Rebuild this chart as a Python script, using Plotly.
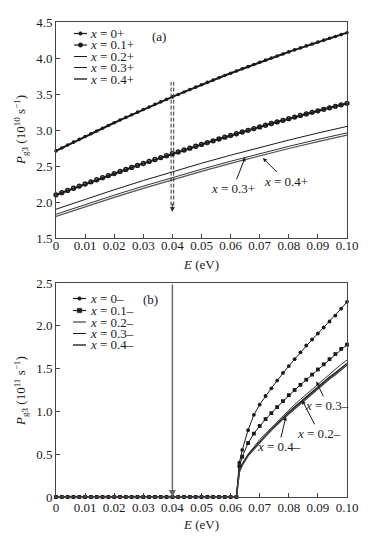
import plotly.graph_objects as go

# ---------------- data ----------------
E_TOP_DENSE = [round(i * 0.002, 3) for i in range(51)]
E_TOP_COARSE = [round(i * 0.01, 2) for i in range(11)]

P_TOP_X0 = [2.710, 2.750, 2.791, 2.831, 2.870, 2.909, 2.948, 2.987, 3.025, 3.063,
            3.101, 3.138, 3.175, 3.212, 3.248, 3.284, 3.320, 3.356, 3.391, 3.426,
            3.460, 3.494, 3.528, 3.562, 3.595, 3.628, 3.661, 3.693, 3.725, 3.757,
            3.788, 3.819, 3.850, 3.880, 3.910, 3.940, 3.970, 3.999, 4.028, 4.056,
            4.085, 4.113, 4.140, 4.168, 4.195, 4.221, 4.248, 4.274, 4.299, 4.325,
            4.350]
P_TOP_X01 = [2.100, 2.130, 2.161, 2.191, 2.221, 2.250, 2.280, 2.309, 2.338, 2.367,
             2.395, 2.424, 2.452, 2.480, 2.508, 2.535, 2.563, 2.590, 2.617, 2.643,
             2.670, 2.696, 2.722, 2.748, 2.774, 2.800, 2.825, 2.850, 2.875, 2.900,
             2.924, 2.948, 2.972, 2.996, 3.020, 3.043, 3.066, 3.090, 3.112, 3.135,
             3.157, 3.180, 3.202, 3.223, 3.245, 3.266, 3.287, 3.308, 3.329, 3.350,
             3.370]
P_TOP_X02 = [1.900, 2.038, 2.170, 2.298, 2.420, 2.538, 2.650, 2.758, 2.860, 2.958, 3.050]
P_TOP_X03 = [1.830, 1.965, 2.095, 2.220, 2.340, 2.455, 2.566, 2.672, 2.773, 2.869, 2.960]
P_TOP_X04 = [1.800, 1.935, 2.065, 2.190, 2.310, 2.425, 2.536, 2.642, 2.743, 2.839, 2.930]

E_BOT = ([round(i * 0.002, 3) for i in range(32)] + [0.063]
         + [round(0.064 + i * 0.002, 3) for i in range(19)])
BELOW_THRESHOLD = [0, 0, 0, 0, 0, 0, 0, 0, 0, 0, 0, 0, 0, 0, 0, 0,
                   0, 0, 0, 0, 0, 0, 0, 0, 0, 0, 0, 0, 0, 0, 0, 0]
P_BOT_X0 = BELOW_THRESHOLD + [0.40, 0.55, 0.78, 0.96, 1.08, 1.18, 1.27, 1.36, 1.45, 1.53,
                              1.61, 1.69, 1.77, 1.84, 1.91, 1.98, 2.05, 2.12, 2.20, 2.28]
P_BOT_X01 = BELOW_THRESHOLD + [0.36, 0.47, 0.63, 0.74, 0.83, 0.91, 0.98, 1.05, 1.12, 1.19,
                               1.25, 1.31, 1.37, 1.43, 1.49, 1.55, 1.61, 1.67, 1.73, 1.78]
P_BOT_X02 = BELOW_THRESHOLD + [0.30, 0.38, 0.49, 0.57, 0.65, 0.72, 0.79, 0.86, 0.92, 0.99,
                               1.05, 1.11, 1.17, 1.23, 1.29, 1.34, 1.40, 1.45, 1.51, 1.56]
P_BOT_X03 = BELOW_THRESHOLD + [0.31, 0.39, 0.50, 0.59, 0.67, 0.74, 0.81, 0.88, 0.95, 1.01,
                               1.08, 1.14, 1.20, 1.26, 1.32, 1.38, 1.43, 1.49, 1.55, 1.60]
P_BOT_X04 = BELOW_THRESHOLD + [0.29, 0.37, 0.48, 0.56, 0.64, 0.71, 0.78, 0.85, 0.91, 0.97,
                               1.03, 1.09, 1.15, 1.21, 1.27, 1.32, 1.38, 1.43, 1.49, 1.54]

X_TICKS = [0, 0.01, 0.02, 0.03, 0.04, 0.05, 0.06, 0.07, 0.08, 0.09, 0.10]
X_TICK_LABELS = ["0", "0.01", "0.02", "0.03", "0.04", "0.05", "0.06", "0.07", "0.08", "0.09", "0.10"]
Y_TOP_TICKS = [1.5, 2.0, 2.5, 3.0, 3.5, 4.0, 4.5]
Y_TOP_LABELS = ["1.5", "2.0", "2.5", "3.0", "3.5", "4.0", "4.5"]
Y_BOT_TICKS = [0, 0.5, 1.0, 1.5, 2.0, 2.5]
Y_BOT_LABELS = ["0", "0.5", "1.0", "1.5", "2.0", "2.5"]

TOP_LEGEND = ["<i>x</i> = 0+", "<i>x</i> = 0.1+", "<i>x</i> = 0.2+", "<i>x</i> = 0.3+", "<i>x</i> = 0.4+"]
BOT_LEGEND = ["<i>x</i> = 0–", "<i>x</i> = 0.1–", "<i>x</i> = 0.2–", "<i>x</i> = 0.3–", "<i>x</i> = 0.4–"]

# ---------------- layout geometry ----------------
FIG_W, FIG_H = 369, 541
ML, MR, MT, MB = 56, 22, 22, 44
PW = FIG_W - ML - MR
PH = FIG_H - MT - MB
FONT = "Liberation Serif"
INK = "#1a1a1a"


def pxx(p):
    return (p - ML) / PW


def pxy(p):
    return (FIG_H - MB - p) / PH


TOP_DOMAIN = [pxy(238), 1.0]
BOT_DOMAIN = [0.0, pxy(283)]

fig = go.Figure()

# top panel traces
fig.add_trace(go.Scatter(x=E_TOP_DENSE, y=P_TOP_X0, mode="lines+markers", xaxis="x", yaxis="y",
                         line=dict(color=INK, width=2),
                         marker=dict(symbol="circle", size=3.6, color=INK), cliponaxis=False))
fig.add_trace(go.Scatter(x=E_TOP_DENSE, y=P_TOP_X01, mode="lines+markers", xaxis="x", yaxis="y",
                         line=dict(color=INK, width=2),
                         marker=dict(symbol="circle-open", size=3.8, color=INK, line=dict(width=1.5)),
                         cliponaxis=False))
fig.add_trace(go.Scatter(x=E_TOP_COARSE, y=P_TOP_X02, mode="lines", xaxis="x", yaxis="y",
                         line=dict(color=INK, width=1)))
fig.add_trace(go.Scatter(x=E_TOP_COARSE, y=P_TOP_X03, mode="lines", xaxis="x", yaxis="y",
                         line=dict(color=INK, width=0.9)))
fig.add_trace(go.Scatter(x=E_TOP_COARSE, y=P_TOP_X04, mode="lines", xaxis="x", yaxis="y",
                         line=dict(color="#555555", width=1.2)))

# bottom panel traces
fig.add_trace(go.Scatter(x=E_BOT, y=P_BOT_X0, mode="lines+markers", xaxis="x2", yaxis="y2",
                         line=dict(color=INK, width=1),
                         marker=dict(symbol="circle", size=3.8, color=INK), cliponaxis=False))
fig.add_trace(go.Scatter(x=E_BOT, y=P_BOT_X01, mode="lines+markers", xaxis="x2", yaxis="y2",
                         line=dict(color=INK, width=1),
                         marker=dict(symbol="square", size=3.8, color=INK), cliponaxis=False))
fig.add_trace(go.Scatter(x=E_BOT, y=P_BOT_X02, mode="lines", xaxis="x2", yaxis="y2",
                         line=dict(color=INK, width=1.4), cliponaxis=False))
fig.add_trace(go.Scatter(x=E_BOT, y=P_BOT_X03, mode="lines", xaxis="x2", yaxis="y2",
                         line=dict(color=INK, width=0.9), cliponaxis=False))
fig.add_trace(go.Scatter(x=E_BOT, y=P_BOT_X04, mode="lines", xaxis="x2", yaxis="y2",
                         line=dict(color="#444444", width=1.4), cliponaxis=False))

axis_common = dict(showline=True, mirror=True, linecolor="#444444", linewidth=1,
                   showgrid=False, zeroline=False, ticks="inside", ticklen=4,
                   tickcolor="#444444", tickfont=dict(family=FONT, size=13, color=INK))

fig.update_layout(
    width=FIG_W, height=FIG_H,
    margin=dict(l=ML, r=MR, t=MT, b=MB),
    paper_bgcolor="white", plot_bgcolor="white",
    showlegend=False,
    font=dict(family=FONT, size=13, color=INK),
    xaxis=dict(domain=[0, 1], anchor="y", range=[0, 0.1], tickvals=X_TICKS,
               ticktext=X_TICK_LABELS, ticklabelstandoff=-5, **axis_common),
    yaxis=dict(domain=TOP_DOMAIN, anchor="x", range=[1.5, 4.5], tickvals=Y_TOP_TICKS,
               ticktext=Y_TOP_LABELS, **axis_common),
    xaxis2=dict(domain=[0, 1], anchor="y2", range=[0, 0.1], tickvals=X_TICKS,
                ticktext=X_TICK_LABELS, ticklabelstandoff=-2, **axis_common),
    yaxis2=dict(domain=BOT_DOMAIN, anchor="x2", range=[0, 2.5], tickvals=Y_BOT_TICKS,
                ticktext=Y_BOT_LABELS, **axis_common),
)

shapes = []
annotations = []

# dashed double vertical line with arrow (top panel)
for off in (-1.3, 1.3):
    shapes.append(dict(type="line", xref="x", yref="y", xsizemode="pixel", xanchor=0.04,
                       x0=off, x1=off, y0=1.95, y1=3.67,
                       line=dict(color="#333333", width=1, dash="4px,2px")))
annotations.append(dict(x=0.04, y=1.86, xref="x", yref="y", ax=0, ay=-10, text="",
                        showarrow=True, arrowhead=2, arrowsize=1, arrowwidth=1,
                        arrowcolor="#333333"))

# vertical arrow (bottom panel)
annotations.append(dict(x=0.04, y=0.0, xref="x2", yref="y2", axref="x2", ayref="y2",
                        ax=0.04, ay=2.5, text="", showarrow=True, arrowhead=2,
                        arrowsize=1, arrowwidth=1.4, arrowcolor="#666666"))


def paper_text(px, py, text, angle=0, anchor="center"):
    annotations.append(dict(x=pxx(px), y=pxy(py), xref="paper", yref="paper",
                            xanchor=anchor, yanchor="middle", text=text, textangle=angle,
                            showarrow=False, font=dict(family=FONT, size=13, color=INK)))


# legends (drawn manually to match tight spacing)
def add_legend(rows_y, labels, styles, line_x0, line_x1, text_x):
    for yy, lab, st in zip(rows_y, labels, styles):
        shapes.append(dict(type="line", xref="paper", yref="paper",
                           x0=pxx(line_x0), x1=pxx(line_x1), y0=pxy(yy), y1=pxy(yy),
                           line=dict(color=st[0], width=st[1])))
        if st[2]:
            cx = pxx((line_x0 + line_x1) / 2)
            cy = pxy(yy)
            r = st[2]
            shapes.append(dict(type=st[3], xref="paper", yref="paper",
                               xsizemode="pixel", ysizemode="pixel", xanchor=cx, yanchor=cy,
                               x0=-r, x1=r, y0=-r, y1=r,
                               fillcolor=INK, line=dict(color=INK, width=0.5)))
        paper_text(text_x, yy, lab, anchor="left")


add_legend([33.5, 45, 56.5, 67.5, 79], TOP_LEGEND,
           [(INK, 1.2, 1.8, "circle"), (INK, 1.2, 2.2, "circle"), (INK, 1, 0, None),
            (INK, 1, 0, None), ("#666666", 2, 0, None)],
           74, 87, 88)
add_legend([298.5, 310.5, 322, 333.5, 345], BOT_LEGEND,
           [(INK, 1.2, 1.8, "circle"), (INK, 1.2, 2.2, "rect"), (INK, 1, 0, None),
            (INK, 1, 0, None), ("#666666", 2, 0, None)],
           73, 86, 88)

# panel tags
paper_text(159, 36, "(a)")
paper_text(150, 299, "(b)")

# axis titles
paper_text(21, 130, "<i>P</i><sub>g3</sub> (10<sup>10</sup> s<sup>−1</sup>)", angle=-90)
paper_text(21, 391, "<i>P</i><sub>g3</sub> (10<sup>11</sup> s<sup>−1</sup>)", angle=-90)
paper_text(201, 264, "<i>E</i> (eV)")
paper_text(201, 524, "<i>E</i> (eV)")

# curve labels with arrows
lab_font = dict(family=FONT, size=13, color=INK)
annotations.append(dict(x=0.065, y=2.62, xref="x", yref="y", ax=-12, ay=31,
                        text="<i>x</i> = 0.3+", showarrow=True, arrowhead=2, arrowsize=0.8,
                        arrowwidth=1, arrowcolor=INK, font=lab_font))
annotations.append(dict(x=0.0711, y=2.61, xref="x", yref="y", ax=23, ay=23,
                        text="<i>x</i> = 0.4+", showarrow=True, arrowhead=2, arrowsize=0.8,
                        arrowwidth=1, arrowcolor=INK, font=lab_font))
annotations.append(dict(x=0.0895, y=1.35, xref="x2", yref="y2", ax=11, ay=24,
                        text="<i>x</i> = 0.3–", showarrow=True, arrowhead=2, arrowsize=0.8,
                        arrowwidth=1, arrowcolor=INK, font=lab_font))
annotations.append(dict(x=0.0846, y=1.13, xref="x2", yref="y2", ax=17, ay=33,
                        text="<i>x</i> = 0.2–", showarrow=True, arrowhead=2, arrowsize=0.8,
                        arrowwidth=1, arrowcolor=INK, font=lab_font))
annotations.append(dict(x=0.079, y=0.94, xref="x2", yref="y2", ax=-7, ay=30,
                        text="<i>x</i> = 0.4–", showarrow=True, arrowhead=2, arrowsize=0.8,
                        arrowwidth=1, arrowcolor=INK, font=lab_font))

fig.update_layout(shapes=shapes, annotations=annotations)
fig.write_html("out.html", config={"displayModeBar": False},
               post_script="document.body.style.margin='0';")
